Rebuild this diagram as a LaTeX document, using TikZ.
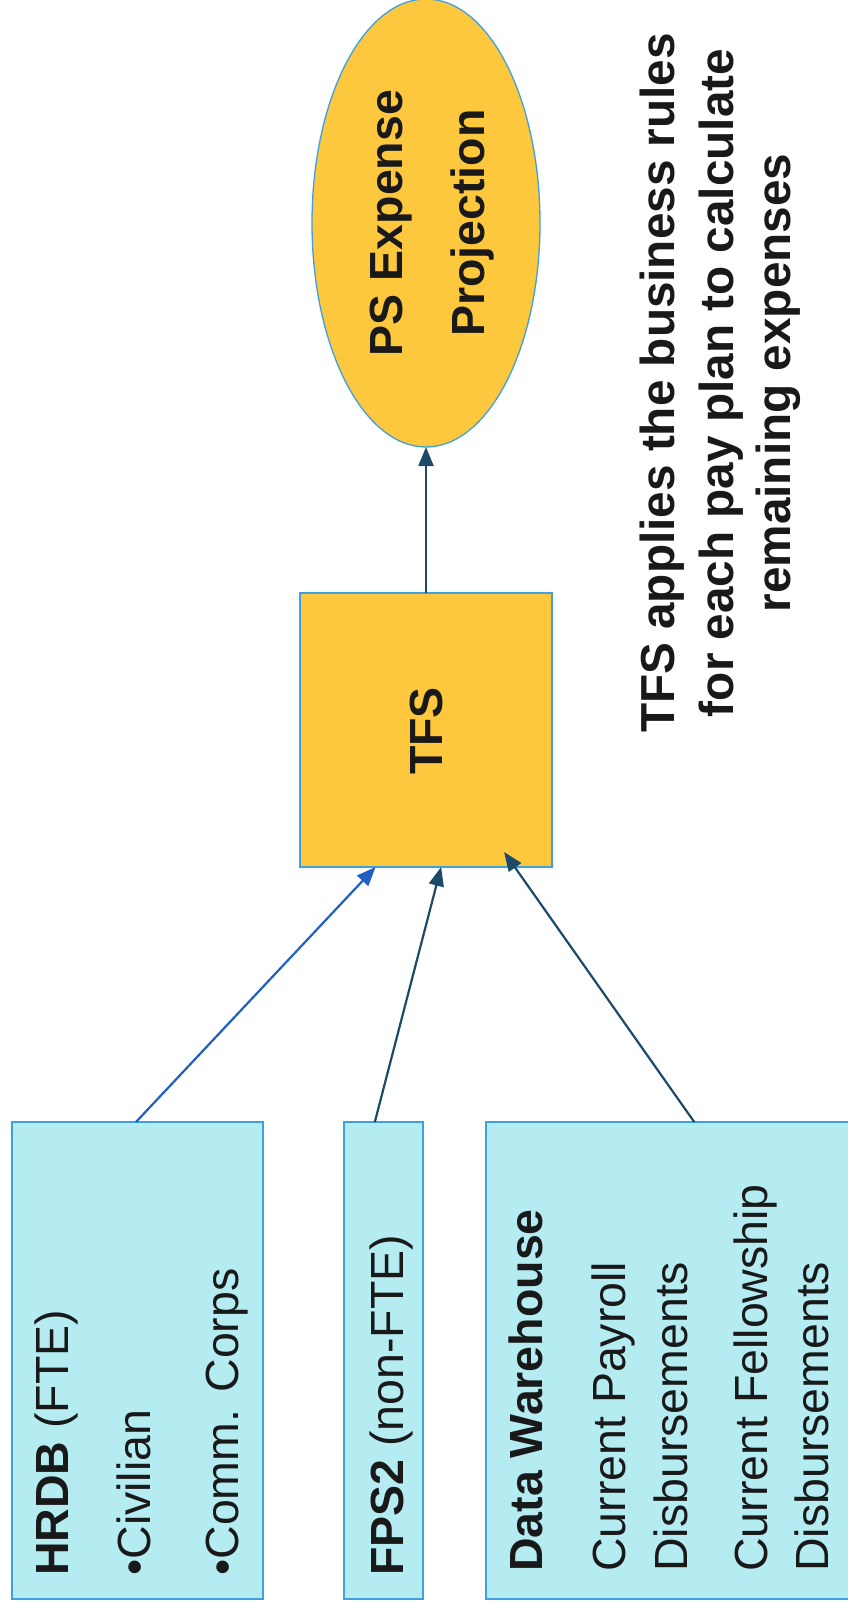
\documentclass[tikz,border=0pt]{standalone}
\usepackage{fontspec}
\setmainfont{Liberation Sans}
\usetikzlibrary{arrows.meta,calc,shapes.geometric}

\definecolor{srcfill}{RGB}{180,236,242}
\definecolor{srcline}{RGB}{62,160,222}
\definecolor{gold}{RGB}{253,200,62}
\definecolor{inkblue}{RGB}{32,96,192}
\definecolor{inkslate}{RGB}{30,74,106}
\definecolor{txt}{RGB}{25,25,25}

\begin{document}
\begin{tikzpicture}[x=1pt,y=-1pt,
  srcbox/.style={draw=srcline, line width=1.8pt, fill=srcfill, inner sep=0pt, outer sep=0pt},
  goldbox/.style={draw=srcline, line width=1.3pt, fill=gold, inner sep=0pt, outer sep=0pt},
  lbl/.style={rotate=90, anchor=base west, inner sep=0pt, text=txt,
    font=\fontsize{46.5}{50}\selectfont},
  hdr/.style={rotate=90, anchor=base, inner sep=0pt, text=txt,
    font=\fontsize{46.5}{50}\selectfont\bfseries},
  note/.style={rotate=90, anchor=base, inner sep=0pt, text=txt,
    font=\fontsize{47.7}{50}\selectfont\bfseries},
  feed/.style={-{Triangle[length=19pt,width=15pt]}, line width=2.2pt},
]
\useasboundingbox (0,0) rectangle (848,1608);
\fill[white] (0,0) rectangle (848,1608);

% source systems
\node[srcbox, minimum width=251pt, minimum height=477pt] (hrdb) at (137.5,1360.5) {};
\node[srcbox, minimum width=79pt,  minimum height=477pt] (fps)  at (383.5,1360.5) {};
\node[srcbox, minimum width=366pt, minimum height=477pt] (dw)   at (669,1360.5) {};

% processing and output
\node[goldbox, minimum width=252pt, minimum height=274pt] (tfs) at (426,730) {};
\node[goldbox, ellipse, minimum width=228pt, minimum height=448pt] (proj) at (426,223) {};

% box labels
\node[lbl] (hrdbA) at (68,1576)  {\textbf{HRDB} (FTE)};
\node[lbl] (hrdbB) at (150,1576) {•Civilian};
\node[lbl] (hrdbC) at (238,1576) {•Comm. Corps};

\node[lbl] (fpsA) at (403,1576) {\textbf{FPS2} (non-FTE)};

\node[lbl] (dwA) at (542,1572) {\textbf{Data Warehouse}};
\node[lbl] (dwB) at (625,1572) {Current Payroll};
\node[lbl] (dwC) at (687,1572) {Disbursements};
\node[lbl] (dwD) at (767,1572) {Current Fellowship};
\node[lbl] (dwE) at (828,1572) {Disbursements};

\node[hdr] (tfsA)  at (442,731) {TFS};
\node[hdr] (projA) at (402,223) {PS Expense};
\node[hdr] (projB) at (484,223) {Projection};

% explanatory note
\node[note] (noteA) at (674,383) {TFS applies the business rules};
\node[note] (noteB) at (733,383) {for each pay plan to calculate};
\node[note] (noteC) at (790,383) {remaining expenses};

% data flow
\draw[feed, draw=inkblue, fill=inkblue]
  ($(hrdb.north west)!0.494!(hrdb.north east)$) -- ($(tfs.south west)!0.30!(tfs.south east)$);
\draw[feed, draw=inkslate, fill=inkslate]
  ($(fps.north west)!0.39!(fps.north east)$) -- ($(tfs.south west)!0.56!(tfs.south east)$);
\draw[feed, draw=inkslate, fill=inkslate]
  ($(dw.north west)!0.569!(dw.north east)$) -- ($($(tfs.south west)!0.81!(tfs.south east)$)+(0,-15)$);
\draw[feed, draw=inkslate, fill=inkslate] (tfs.north) -- (proj.south);
\end{tikzpicture}
\end{document}
